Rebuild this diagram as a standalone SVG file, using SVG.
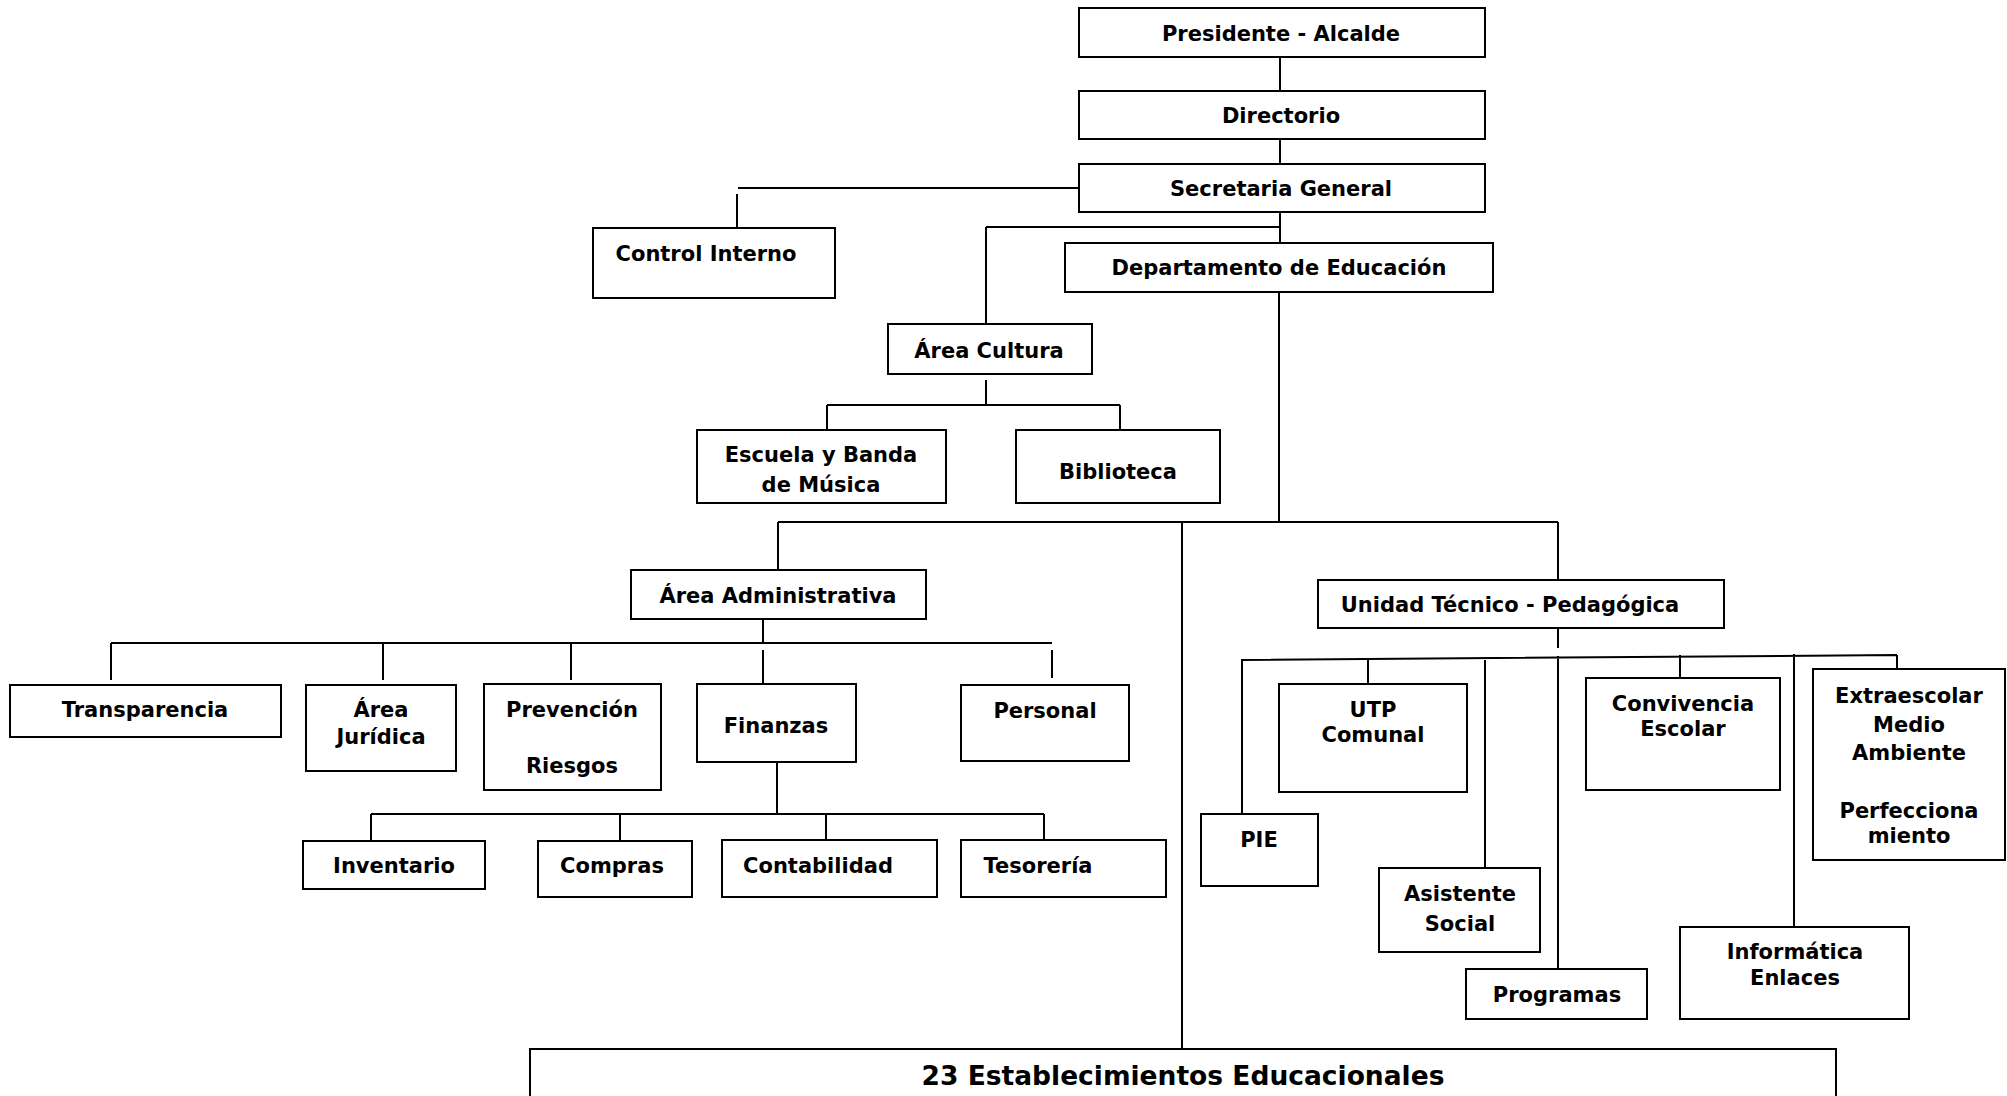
<svg xmlns="http://www.w3.org/2000/svg" width="2007" height="1096" viewBox="0 0 2007 1096">
<style>
rect{fill:#fff;stroke:#000;stroke-width:2}
.c{fill:none;stroke:#000;stroke-width:2}
text{font-family:"DejaVu Sans","Verdana","Liberation Sans",sans-serif;font-weight:bold;font-size:21px;fill:#000;text-anchor:middle}
.big{font-size:26.5px}
</style>
<rect x="0" y="0" width="2007" height="1096" style="stroke:none"/>
<g id="connectors" class="c">
<path d="M1280 57V91M1280 139V164"/>
<path d="M1078 188H738M737 194V228"/>
<path d="M1280 212V243M986 227H1280M986 227V324"/>
<path d="M986 380V405M827 405H1120M827 405V430M1120 405V430"/>
<path d="M1279 292V522M778 522H1558M778 522V570M1182 522V1049M1558 522V580"/>
<path d="M763 619V643M111 643H1052M111 643V680M383 642V680M571 642V680M763 650V685M1052 650V678"/>
<path d="M777 762V814M371 814H1044M371 814V841M620 814V841M826 814V840M1044 814V840"/>
<path d="M1558 628V648M1241 660L1897 655M1242 660V814M1368 659V684M1485 660V868M1558 656V969M1680 655V678M1794 654V927M1897 655V669"/>
</g>
<g id="n-presidente"><rect x="1079" y="8" width="406" height="49"/><text x="1281" y="41">Presidente - Alcalde</text></g>
<g id="n-directorio"><rect x="1079" y="91" width="406" height="48"/><text x="1281" y="123">Directorio</text></g>
<g id="n-secretaria"><rect x="1079" y="164" width="406" height="48"/><text x="1281" y="196">Secretaria General</text></g>
<g id="n-control"><rect x="593" y="228" width="242" height="70"/><text x="706" y="261">Control Interno</text></g>
<g id="n-depto"><rect x="1065" y="243" width="428" height="49"/><text x="1279" y="275">Departamento de Educación</text></g>
<g id="n-cultura"><rect x="888" y="324" width="204" height="50"/><text x="989" y="358">Área Cultura</text></g>
<g id="n-escuela"><rect x="697" y="430" width="249" height="73"/><text x="821" y="462">Escuela y Banda</text><text x="821" y="492">de Música</text></g>
<g id="n-biblioteca"><rect x="1016" y="430" width="204" height="73"/><text x="1118" y="479">Biblioteca</text></g>
<g id="n-admin"><rect x="631" y="570" width="295" height="49"/><text x="778" y="603">Área Administrativa</text></g>
<g id="n-transparencia"><rect x="10" y="685" width="271" height="52"/><text x="145" y="717">Transparencia</text></g>
<g id="n-juridica"><rect x="306" y="685" width="150" height="86"/><text x="381" y="717">Área</text><text x="381" y="744">Jurídica</text></g>
<g id="n-prevencion"><rect x="484" y="684" width="177" height="106"/><text x="572" y="717">Prevención</text><text x="572" y="773">Riesgos</text></g>
<g id="n-finanzas"><rect x="697" y="684" width="159" height="78"/><text x="776" y="733">Finanzas</text></g>
<g id="n-personal"><rect x="961" y="685" width="168" height="76"/><text x="1045" y="718">Personal</text></g>
<g id="n-inventario"><rect x="303" y="841" width="182" height="48"/><text x="394" y="873">Inventario</text></g>
<g id="n-compras"><rect x="538" y="841" width="154" height="56"/><text x="612" y="873">Compras</text></g>
<g id="n-contabilidad"><rect x="722" y="840" width="215" height="57"/><text x="818" y="873">Contabilidad</text></g>
<g id="n-tesoreria"><rect x="961" y="840" width="205" height="57"/><text x="1038" y="873">Tesorería</text></g>
<g id="n-utp-ped"><rect x="1318" y="580" width="406" height="48"/><text x="1510" y="612">Unidad Técnico - Pedagógica</text></g>
<g id="n-pie"><rect x="1201" y="814" width="117" height="72"/><text x="1259" y="847">PIE</text></g>
<g id="n-utp-comunal"><rect x="1279" y="684" width="188" height="108"/><text x="1373" y="717">UTP</text><text x="1373" y="742">Comunal</text></g>
<g id="n-asistente"><rect x="1379" y="868" width="161" height="84"/><text x="1460" y="901">Asistente</text><text x="1460" y="931">Social</text></g>
<g id="n-programas"><rect x="1466" y="969" width="181" height="50"/><text x="1557" y="1002">Programas</text></g>
<g id="n-convivencia"><rect x="1586" y="678" width="194" height="112"/><text x="1683" y="711">Convivencia</text><text x="1683" y="736">Escolar</text></g>
<g id="n-informatica"><rect x="1680" y="927" width="229" height="92"/><text x="1795" y="959">Informática</text><text x="1795" y="985">Enlaces</text></g>
<g id="n-extraescolar"><rect x="1813" y="669" width="192" height="191"/><text x="1909" y="703">Extraescolar</text><text x="1909" y="732">Medio</text><text x="1909" y="760">Ambiente</text><text x="1909" y="818">Perfecciona</text><text x="1909" y="843">miento</text></g>
<g id="n-establecimientos"><rect x="530" y="1049" width="1306" height="60"/><text class="big" x="1183" y="1085">23 Establecimientos Educacionales</text></g>
</svg>
